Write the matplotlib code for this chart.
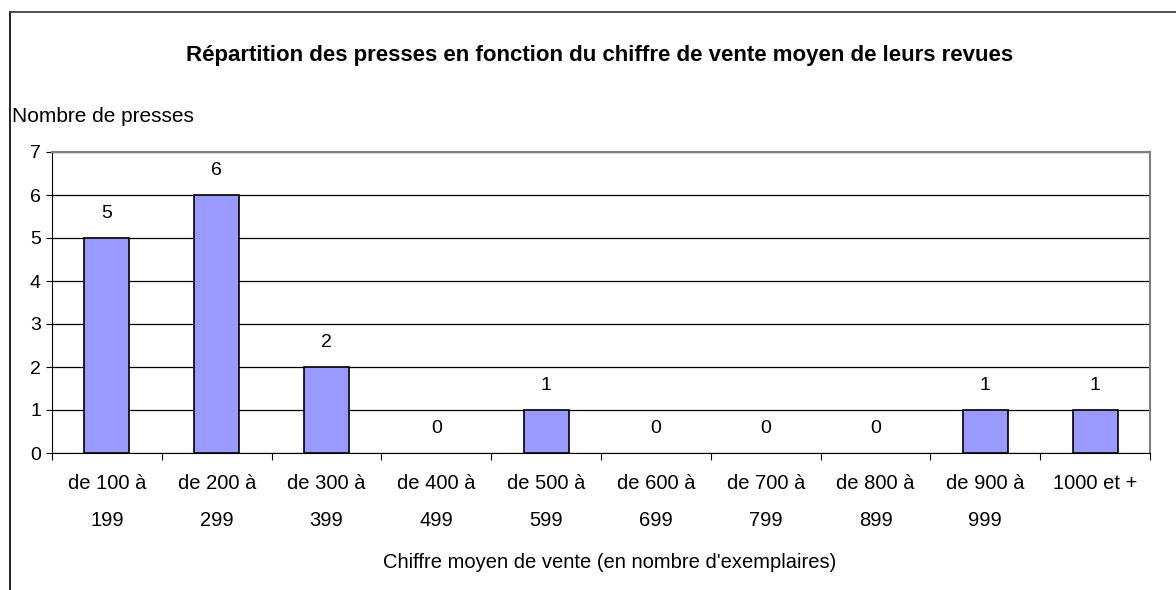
import numpy as np
import matplotlib.pyplot as plt
from matplotlib.lines import Line2D

plt.rcParams['font.family'] = ['Liberation Sans', 'DejaVu Sans']

categories = ['de 100 à\n199', 'de 200 à\n299', 'de 300 à\n399', 'de 400 à\n499',
              'de 500 à\n599', 'de 600 à\n699', 'de 700 à\n799', 'de 800 à\n899',
              'de 900 à\n999', '1000 et +']
counts = [5, 6, 2, 0, 1, 0, 0, 0, 1, 1]

W, H = 1176, 590
fig = plt.figure(figsize=(W / 100, H / 100), dpi=100)

# plot area in pixels: left 52, right 1150, top 152, bottom 453
ax = fig.add_axes([52 / W, 1 - 453 / H, (1150 - 52) / W, (453 - 152) / H])

x = np.arange(len(categories))
# zero-height bars get no outline (otherwise a flat line shows on the axis)
edges = ['black' if c > 0 else 'none' for c in counts]
ax.bar(x, counts, width=0.41, color='#9999FF', edgecolor=edges, linewidth=1.2, zorder=3)

# value labels above the bars
for xi, c in zip(x, counts):
    ax.text(xi, c + 0.58, str(c), ha='center', va='center', fontsize=14)

ax.set_xlim(-0.5, len(categories) - 0.5)
ax.set_ylim(0, 7)
ax.set_yticks(range(8))
ax.yaxis.grid(True, color='black', linewidth=0.9, zorder=0)
ax.tick_params(axis='y', labelsize=14, length=4, direction='out', pad=4)

# ticks between categories, labels centred on them
ax.set_xticks(np.arange(len(categories) + 1) - 0.5)
ax.set_xticklabels([])
ax.set_xticks(x, minor=True)
ax.set_xticklabels(categories, minor=True, fontsize=14.5, linespacing=2.2)
ax.tick_params(axis='x', which='minor', length=0, pad=15)
ax.tick_params(axis='x', which='major', length=5, direction='out')

for s in ['top', 'right']:
    ax.spines[s].set_color('#808080')
    ax.spines[s].set_linewidth(1.5)
ax.spines['left'].set_color('black')
ax.spines['bottom'].set_color('black')

fig.text(600 / W, 1 - 56 / H, 'Répartition des presses en fonction du chiffre de vente moyen de leurs revues',
         ha='center', va='center', fontsize=16, fontweight='bold')
fig.text(12 / W, 1 - 116 / H, 'Nombre de presses', ha='left', va='center', fontsize=15)
fig.text(610 / W, 1 - 562 / H, "Chiffre moyen de vente (en nombre d'exemplaires)",
         ha='center', va='center', fontsize=14.5)

# chart frame
fig.add_artist(Line2D([9.5 / W, 9.5 / W], [0, 1 - 12 / H], transform=fig.transFigure, color='black', linewidth=1.2))
fig.add_artist(Line2D([9.5 / W, 1], [1 - 12 / H, 1 - 12 / H], transform=fig.transFigure, color='#333333', linewidth=1.2))

fig.savefig('out.png', dpi=100)
